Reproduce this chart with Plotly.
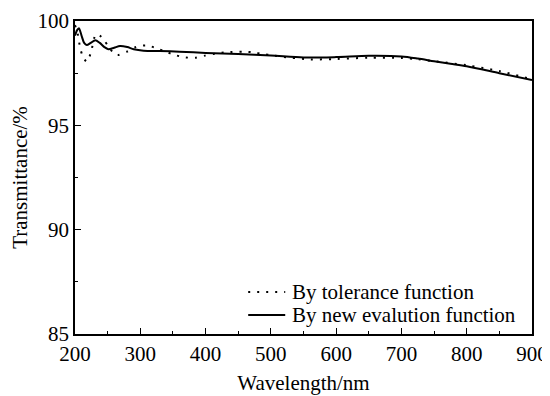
import plotly.graph_objects as go

wl_tol = [200, 204, 208, 212, 218, 224, 232, 238, 244, 252, 258, 265, 279, 294, 310, 324, 339, 353,
          368, 384, 399, 415, 430, 458, 473, 487, 504, 518, 531, 560, 600, 650, 700, 725, 750, 800, 850, 900]
t_tol = [99.8, 99.4, 98.7, 98.3, 98.05, 98.45, 99.35, 99.3, 99.1, 98.75, 98.5, 98.37, 98.52, 98.76, 98.83,
         98.7, 98.53, 98.37, 98.26, 98.24, 98.34, 98.44, 98.5, 98.53, 98.5, 98.42, 98.35, 98.28, 98.24,
         98.16, 98.18, 98.24, 98.23, 98.17, 98.07, 97.88, 97.6, 97.2]

wl_new = [200, 203, 206, 210, 214, 218, 224, 231, 238, 245, 251, 260, 269, 280, 290, 305, 330, 360,
          400, 450, 500, 550, 600, 650, 700, 725, 750, 775, 800, 850, 900]
t_new = [99.3, 99.55, 99.65, 99.3, 98.95, 98.85, 98.95, 99.08, 98.95, 98.75, 98.65, 98.72, 98.8, 98.75,
         98.65, 98.58, 98.56, 98.53, 98.47, 98.42, 98.35, 98.25, 98.27, 98.33, 98.3, 98.2, 98.07, 97.95,
         97.83, 97.5, 97.17]

x_ticks = [200, 300, 400, 500, 600, 700, 800, 900]
y_ticks = [85, 90, 95, 100]
series_names = ["By tolerance function", "By new evalution function"]
series_dash = ["2px,7px", "solid"]

font = dict(family="Liberation Serif, Times New Roman, serif", size=21, color="black")

fig = go.Figure()
fig.add_trace(go.Scatter(x=wl_tol, y=t_tol, mode="lines", name=series_names[0],
                         line=dict(color="black", width=2, dash=series_dash[0], shape="spline", smoothing=0.8)))
fig.add_trace(go.Scatter(x=wl_new, y=t_new, mode="lines", name=series_names[1],
                         line=dict(color="black", width=2, dash=series_dash[1], shape="spline", smoothing=0.8)))

axis_common = dict(showline=True, linecolor="black", linewidth=1.5, mirror=True, showgrid=False,
                   zeroline=False, ticks="inside", ticklen=6, tickwidth=1.2, tickcolor="black",
                   tickfont=font, title_font=font, automargin=False)

fig.update_xaxes(range=[200, 900], tickvals=x_ticks, title_text="Wavelength/nm", title_standoff=10,
                 minor=dict(ticks="inside", ticklen=3, tickwidth=1.2, dtick=50, tick0=200, tickcolor="black"),
                 **axis_common)
fig.update_yaxes(range=[85, 100], tickvals=y_ticks, title_text="Transmittance/%", title_standoff=8,
                 minor=dict(ticks="inside", ticklen=3, tickwidth=1.2, dtick=2.5, tick0=85, tickcolor="black"),
                 **axis_common)

# manual legend (lower right inside the plot)
legend_rows_y = [0.134, 0.061]
for name, dash, ly in zip(series_names, series_dash, legend_rows_y):
    fig.add_shape(type="line", xref="paper", yref="paper", x0=0.379, x1=0.46, y0=ly, y1=ly,
                  line=dict(color="black", width=2, dash=dash))
    fig.add_annotation(xref="paper", yref="paper", x=0.47, y=ly, text=name, showarrow=False,
                       xanchor="left", yanchor="middle", font=font)

fig.update_layout(
    width=542, height=388,
    margin=dict(l=67, r=18, t=13, b=62),
    plot_bgcolor="white", paper_bgcolor="white",
    font=font,
    showlegend=False,
)

fig.write_html("out.html")
